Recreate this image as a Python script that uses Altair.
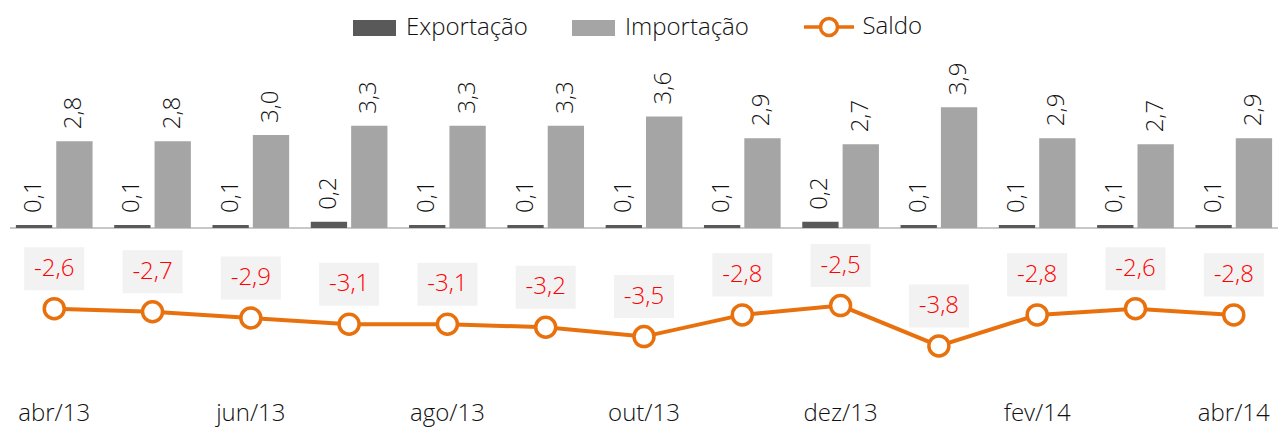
import altair as alt
import pandas as pd

# ---- data ----
meses = ["abr/13", "mai/13", "jun/13", "jul/13", "ago/13", "set/13", "out/13",
         "nov/13", "dez/13", "jan/14", "fev/14", "mar/14", "abr/14"]
exportacao = [0.1, 0.1, 0.1, 0.2, 0.1, 0.1, 0.1, 0.1, 0.2, 0.1, 0.1, 0.1, 0.1]
importacao = [2.8, 2.8, 3.0, 3.3, 3.3, 3.3, 3.6, 2.9, 2.7, 3.9, 2.9, 2.7, 2.9]
saldo = [-2.6, -2.7, -2.9, -3.1, -3.1, -3.2, -3.5, -2.8, -2.5, -3.8, -2.8, -2.6, -2.8]
series_barras = ["Exportação", "Importação"]
serie_linha = ["Saldo"]
rotulos_x = ["abr/13", "jun/13", "ago/13", "out/13", "dez/13", "fev/14", "abr/14"]

# ---- styles ----
FONT = "Open Sans"
W = 300
ORANGE = "#E8710E"
C_EXP = "#595959"
C_IMP = "#A5A5A5"
TXT = "#111111"

barras = pd.DataFrame(
    [{"Mes": m, "Serie": "Exportação", "Valor": v} for m, v in zip(meses, exportacao)]
    + [{"Mes": m, "Serie": "Importação", "Valor": v} for m, v in zip(meses, importacao)]
)
linha = pd.DataFrame({"Mes": meses, "Saldo": saldo, "SerieL": ["Saldo"] * len(meses),
                      "Zero": [0.0] * len(meses)})

x_enc = alt.X(
    "Mes:N", sort=meses,
    scale=alt.Scale(paddingInner=0.22, paddingOuter=0.06),
    axis=alt.Axis(values=rotulos_x, title=None, domain=False, ticks=False,
                  labelAngle=0, labelFont=FONT, labelFontWeight=W, labelFontSize=24,
                  labelColor=TXT, labelBaseline="alphabetic", labelPadding=0,
                  grid=False),
)
y_scale = alt.Scale(domain=[-6.19, 7.097], nice=False, zero=False)
xoff = alt.XOffset("Serie:N", sort=series_barras,
                   scale=alt.Scale(paddingInner=0.1, paddingOuter=0))

rect_path = "M-0.86,-0.32H0.86V0.32H-0.86Z"
saldo_path = ("M-1,0H-0.34M0.34,0H1M-0.34,0A0.34,0.34 0 1,1 0.34,0"
              "A0.34,0.34 0 1,1 -0.34,0Z")

leg_common = dict(title=None, orient="none", direction="horizontal",
                  labelFont=FONT, labelFontWeight=W, labelFontSize=24,
                  labelColor=TXT, labelOffset=6.5, columnPadding=40,
                  symbolSize=2500, padding=0)

bars = alt.Chart(barras).mark_bar().encode(
    x=x_enc,
    xOffset=xoff,
    y=alt.Y("Valor:Q", scale=y_scale, axis=None),
    color=alt.Color("Serie:N", scale=alt.Scale(domain=series_barras, range=[C_EXP, C_IMP]),
                    legend=alt.Legend(legendX=339.5, legendY=-5, symbolType=rect_path,
                                      symbolStrokeWidth=0, symbolOpacity=1, **leg_common)),
)

bar_labels = alt.Chart(barras).transform_calculate(
    rot="replace(format(datum.Valor, '.1f'), '.', ',')"
).mark_text(angle=270, align="left", baseline="middle", dx=12, font=FONT,
            fontWeight=W, fontSize=24, color=TXT).encode(
    x=x_enc, xOffset=xoff,
    y=alt.Y("Valor:Q", scale=y_scale, axis=None),
    text="rot:N",
)

base_rule = alt.Chart(linha).mark_rule(color="#C8C8C8", strokeWidth=2).encode(
    y=alt.Y("Zero:Q", scale=y_scale, axis=None)
)

line = alt.Chart(linha).mark_line(strokeWidth=4).encode(
    x=x_enc, y=alt.Y("Saldo:Q", scale=y_scale, axis=None),
    stroke=alt.Stroke("SerieL:N", scale=alt.Scale(domain=serie_linha, range=[ORANGE]),
                      legend=alt.Legend(legendX=792, legendY=-8, symbolType=saldo_path,
                                        symbolFillColor="white", symbolStrokeColor=ORANGE,
                                        symbolStrokeWidth=3.5, symbolOpacity=1, **leg_common)),
)
pts = alt.Chart(linha).mark_circle(size=400, fill="white", stroke=ORANGE, strokeWidth=3.5,
                                   opacity=1).encode(
    x=x_enc, y=alt.Y("Saldo:Q", scale=y_scale, axis=None)
)
boxes = alt.Chart(linha).mark_point(shape="M-1,-0.717H1V0.717H-1Z", size=3600, filled=True,
                                    color="#F2F2F2", opacity=1, strokeWidth=0,
                                    yOffset=-40).encode(
    x=x_enc, y=alt.Y("Saldo:Q", scale=y_scale, axis=None)
)
saldo_labels = alt.Chart(linha).transform_calculate(
    rot="(datum.Saldo < 0 ? '-' : '') + replace(format(abs(datum.Saldo), '.1f'), '.', ',')"
).mark_text(baseline="middle", align="center", dy=-40, font=FONT, fontWeight=W,
            fontSize=24, color="#FF0000").encode(
    x=x_enc, y=alt.Y("Saldo:Q", scale=y_scale, axis=None), text="rot:N"
)

chart = alt.layer(base_rule, bars, bar_labels, line, pts, boxes, saldo_labels).properties(
    width=1268, height=412,
    autosize=alt.AutoSizeParams(type="none"),
    padding={"left": 2, "top": 0, "right": 0, "bottom": 8},
).configure(background="white").configure_view(stroke=None)

chart.save("out.html", embed_options={"renderer": "svg", "actions": False})
